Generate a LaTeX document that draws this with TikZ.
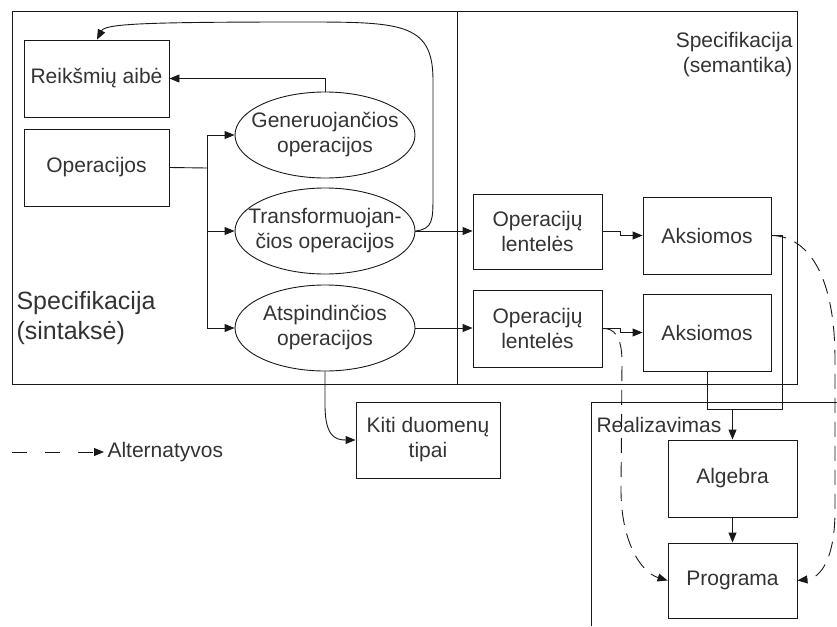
\documentclass[tikz,border=0pt]{standalone}
\usepackage{fontspec}
\setmainfont{Liberation Sans}
\usetikzlibrary{arrows.meta,calc,shapes.geometric}
\begin{document}
\begin{tikzpicture}[x=1pt,y=-1pt,
  font=\fontsize{21}{25}\selectfont,
  every node/.style={text=black!80},
  line/.style={draw=black!90,line width=0.9pt},
  arr/.style={line,-{Triangle[length=10pt,width=8pt]}},
  dasharr/.style={arr,dash pattern=on 15pt off 9pt},
  box/.style={line,rectangle,inner sep=2pt,align=center},
  ell/.style={line,ellipse,minimum width=180pt,minimum height=86pt,inner sep=0pt},
  frame/.style={line}]
\useasboundingbox (0,0) rectangle (837,626);
% frames
\draw[frame] (12,11) rectangle (457,384);
\draw[frame] (457,11) rectangle (797,384);
\draw[frame] (837,402) -- (591,402) -- (591,626);
% labels
\node[anchor=west,align=left,font=\fontsize{25}{30}\selectfont] (syn) at (13,318) {Specifikacija\\(sintaksė)};
\node[anchor=east,align=right] (sem) at (796,55) {Specifikacija\\(semantika)};
\node[anchor=west] (realiz) at (593,425) {Realizavimas};
% nodes
\node[box,minimum width=145pt,minimum height=77pt] (reik) at (96.5,78.5) {Reikšmių aibė};
\node[box,minimum width=145pt,minimum height=77pt] (oper) at (96.5,167.5) {Operacijos};
\node[ell,label={[align=center]center:Generuojančios\\operacijos}] (gen) at (325,135) {};
\node[ell,label={[align=center]center:Transformuojan-\\čios operacijos}] (trans) at (325,231) {};
\node[ell,label={[align=center]center:Atspindinčios\\operacijos}] (atsp) at (325,328) {};
\node[box,minimum width=129pt,minimum height=75pt] (ol1) at (537.5,231.5) {Operacijų\\lentelės};
\node[box,minimum width=128pt,minimum height=77pt] (ax1) at (707,235.5) {Aksiomos};
\node[box,minimum width=129pt,minimum height=77pt] (ol2) at (537.5,328.5) {Operacijų\\lentelės};
\node[box,minimum width=128pt,minimum height=77pt] (ax2) at (707,332.5) {Aksiomos};
\node[box,minimum width=144pt,minimum height=76pt] (kiti) at (428,440) {Kiti duomenų\\tipai};
\node[box,minimum width=129pt,minimum height=77pt] (alg) at (732.5,478.5) {Algebra};
\node[box,minimum width=129pt,minimum height=75pt] (prog) at (732.5,580.5) {Programa};
\node[anchor=west] (alt) at (104,452) {Alternatyvos};
\coordinate (l1) at (12,452);
\coordinate (j) at (207,168);
\coordinate (m) at (732.5,409);
% connectors
\draw[line] (oper.east) -- (j);
\draw[line] (j |- gen.west) -- (j |- atsp.west);
\draw[arr] (j |- gen.west) -- (gen.west);
\draw[arr] (j |- trans.west) -- (trans.west);
\draw[arr] (j |- atsp.west) -- (atsp.west);
\draw[arr] (gen.north) |- (reik.east);
\draw[arr] (trans.east) .. controls (433,229) and (433,220) .. (433,195)
   -- (433,80) .. controls (433,22) and (400,22) .. (300,22)
   .. controls (140,22) and (105,24) .. (reik.north -| 97,0);
\draw[arr] (trans.east) -- (ol1.west |- trans.east);
\draw[arr] (atsp.east) -- (ol2.west |- atsp.east);
\draw[arr] (ol1.east) -- ($(ol1.east)+(18,0)$) |- (ax1.west);
\draw[arr] (ol2.east) -- ($(ol2.east)+(18,0)$) |- (ax2.west);
\draw[line] (ax2.south) |- (m);
\draw[line] (ax1.east) -| (782,409) -- (m);
\draw[arr] (m) -- (alg.north);
\draw[arr] (alg.south) -- (prog.north);
\draw[arr] (atsp.south) -- (325,405) .. controls (325,436) and (335,440) .. (kiti.west);
\draw[dasharr] (ax1.east) .. controls (805,236) and (835,270) .. (835,360)
   -- (835,510) .. controls (835,560) and (820,578) .. (prog.east);
\draw[dasharr] (ol2.east) .. controls (614,328) and (622,336) .. (622,362)
   -- (621,490) .. controls (621,540) and (640,572) .. (prog.west);
\draw[arr,dash pattern=on 15pt off 18pt] (l1) -- (alt.west);
\end{tikzpicture}
\end{document}
